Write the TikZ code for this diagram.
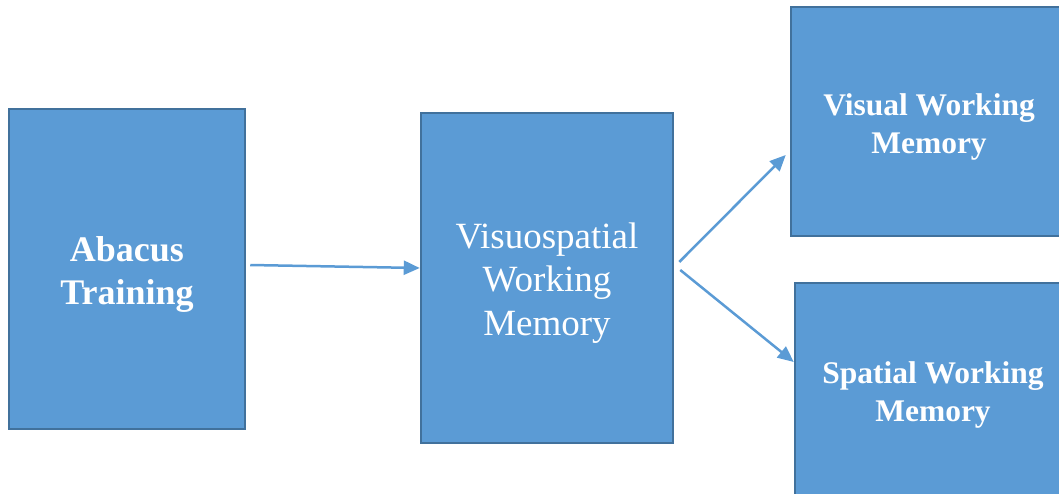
\documentclass[tikz,border=0pt]{standalone}
\usepackage{fontspec}
\setmainfont{Liberation Serif}
\usetikzlibrary{arrows.meta}
\definecolor{boxfill}{HTML}{5B9BD5}
\definecolor{boxline}{HTML}{41719C}
\tikzset{
  box/.style={draw=boxline, line width=2.5pt, fill=boxfill, inner sep=0pt},
  txt/.style={text=white, align=center, inner sep=0pt},
  bigbold/.style={txt, font=\fontsize{36}{43}\selectfont\bfseries},
  bigreg/.style={txt, font=\fontsize{37}{43.5}\selectfont},
  smallbold/.style={txt, font=\fontsize{31.5}{38}\selectfont\bfseries},
  arr/.style={draw=boxfill, line width=2.5pt, -{Triangle[length=16pt,width=14pt]}}
}
\begin{document}
\begin{tikzpicture}[x=1pt,y=-1pt]
\useasboundingbox (0,0) rectangle (1059,493);
\clip (0,0) rectangle (1059,493);
\node[box, minimum width=236pt, minimum height=320pt,
  label={[name=abacusT, bigbold, yshift=-5.5pt]center:{Abacus\\Training}}] (abacus) at (127,269) {};
\node[box, minimum width=252pt, minimum height=330pt,
  label={[name=vsT, bigreg, yshift=-5pt]center:{Visuospatial\\Working\\Memory}}] (vs) at (547,278) {};
\node[box, minimum width=274pt, minimum height=229pt,
  label={[name=visualT, smallbold, yshift=-5.5pt, xshift=1pt]center:{Visual Working\\Memory}}] (visual) at (928,121.5) {};
\node[box, minimum width=270pt, minimum height=217pt,
  label={[name=spatialT, smallbold, yshift=-3pt, xshift=3pt]center:{Spatial Working\\Memory}}] (spatial) at (930,391.5) {};
\draw[arr] ([shift={(4,-4)}]abacus.east) -- ([yshift=10pt]vs.west);
\draw[arr] ([shift={(5,-16)}]vs.east) -- ([shift={(-4,33.5)}]visual.west);
\draw[arr] ([shift={(6,-8)}]vs.east) -- ([yshift=29.5pt]spatial.west);
\end{tikzpicture}
\end{document}
